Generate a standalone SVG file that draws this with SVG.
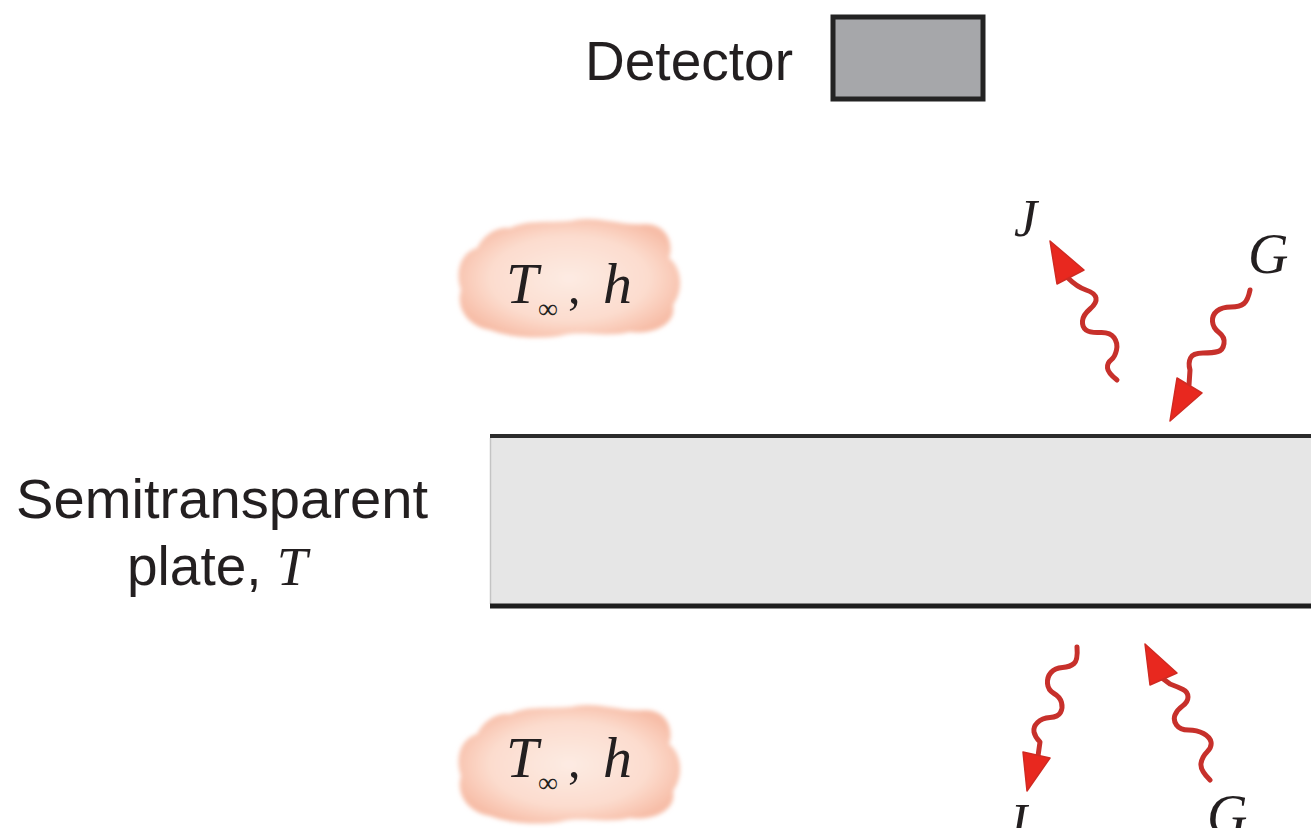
<svg xmlns="http://www.w3.org/2000/svg" width="1311" height="828" viewBox="0 0 1311 828">
  <style>
    .label { font-family: "Liberation Sans", Arial, sans-serif; fill: #231f20; }
    .math { font-family: "Liberation Serif", "Times New Roman", serif; font-style: italic; fill: #231f20; }
    .sub { font-family: "Liberation Serif", "Times New Roman", serif; fill: #231f20; }
    .wave { fill: none; stroke: #c7302b; stroke-width: 5; stroke-linecap: round; stroke-linejoin: round; }
    .head { fill: #e8281f; stroke: #d02a22; stroke-width: 1.5; stroke-linejoin: round; }
  </style>
  <defs>
    <radialGradient id="cloudFill" cx="0.5" cy="0.5" r="0.55">
      <stop offset="0" stop-color="#fdebe3"/>
      <stop offset="0.65" stop-color="#fcdcce"/>
      <stop offset="1" stop-color="#f7bda7"/>
    </radialGradient>
    <filter id="soft" x="-10%" y="-20%" width="120%" height="140%">
      <feGaussianBlur stdDeviation="2"/>
    </filter>
    <path id="cloudShape" d="M 510 228 C 530 218, 560 224, 575 220 C 600 216, 620 226, 645 224 C 668 224, 674 245, 669 258 C 682 268, 684 290, 673 305 C 677 325, 652 335, 630 332 C 605 338, 580 330, 560 336 C 535 340, 505 336, 490 330 C 465 326, 456 305, 461 290 C 454 270, 462 252, 477 248 C 484 234, 498 226, 510 228 Z"/>
  </defs>

  <rect width="1311" height="828" fill="#ffffff"/>

  <!-- detector -->
  <g id="detector">
    <text class="label" x="585" y="80" font-size="55" textLength="208" lengthAdjust="spacingAndGlyphs">Detector</text>
    <rect x="833" y="17" width="150" height="82" fill="#a6a7aa" stroke="#232323" stroke-width="5"/>
  </g>

  <!-- plate -->
  <g id="plate">
    <rect x="490" y="436" width="830" height="170" fill="#e6e6e6"/>
    <line x1="490.5" y1="438" x2="490.5" y2="604" stroke="#c4c4c4" stroke-width="1.5"/>
    <line x1="490" y1="436" x2="1311" y2="436" stroke="#2b2b2b" stroke-width="4"/>
    <line x1="490" y1="606" x2="1311" y2="606" stroke="#1e1e1e" stroke-width="5"/>
  </g>

  <g id="plate-label">
    <text class="label" x="16" y="518" font-size="55" textLength="412" lengthAdjust="spacingAndGlyphs">Semitransparent</text>
    <text class="label" x="127" y="585" font-size="55">plate, <tspan class="math">T</tspan></text>
  </g>

  <!-- surrounding fluid, upper side -->
  <g id="fluid-top">
    <use href="#cloudShape" fill="url(#cloudFill)" filter="url(#soft)"/>
    <text class="math" x="506" y="303" font-size="58">T</text>
    <text class="sub" x="538" y="318" font-size="28">∞</text>
    <text class="sub" x="568" y="303" font-size="50">,</text>
    <text class="math" x="603" y="303" font-size="58">h</text>
  </g>

  <!-- surrounding fluid, lower side -->
  <g id="fluid-bottom">
    <use href="#cloudShape" transform="translate(0 486)" fill="url(#cloudFill)" filter="url(#soft)"/>
    <text class="math" x="506" y="777" font-size="58">T</text>
    <text class="sub" x="538" y="792" font-size="28">∞</text>
    <text class="sub" x="568" y="777" font-size="50">,</text>
    <text class="math" x="603" y="777" font-size="58">h</text>
  </g>

  <!-- radiation fluxes -->
  <g id="connectors">
    <g id="J-top">
      <path class="wave" d="M 1117 380 Q 1108 373 1107.5 368 Q 1107 363 1111 360 Q 1115 357 1116.5 350 Q 1118 343 1114 337.5 Q 1110 332 1100 332.5 Q 1090 333 1086 330 Q 1082 327 1082.5 321 Q 1083 315 1090 309 Q 1097 303 1096 298 Q 1095 293 1086 290 Q 1077 287 1068 278"/>
      <polygon class="head" points="1050,241 1084,270 1057,284"/>
    </g>
    <g id="G-top">
      <path class="wave" d="M 1250 290 Q 1248 300 1244 303.5 Q 1240 307 1231 307 Q 1222 307 1217 311 Q 1212 315 1212.5 321.5 Q 1213 328 1219 332.5 Q 1225 337 1224 343.5 Q 1223 350 1218 351.5 Q 1213 353 1203 353 Q 1193 353 1190.5 358 Q 1188 363 1190 370 L 1189 385"/>
      <polygon class="head" points="1170,421 1177,378 1202,393"/>
    </g>
    <g id="J-bottom">
      <path class="wave" d="M 1077 647 Q 1078 660 1074 663.5 Q 1070 667 1062.5 667.5 Q 1055 668 1051 672.5 Q 1047 677 1047.5 683.5 Q 1048 690 1054 693.5 Q 1060 697 1061.5 702.5 Q 1063 708 1060.5 712.5 Q 1058 717 1050 717.5 Q 1042 718 1037.5 722.5 Q 1033 727 1034 732 Q 1035 737 1040 742 L 1038 756"/>
      <polygon class="head" points="1027,791 1023,752 1050,758"/>
    </g>
    <g id="G-bottom">
      <path class="wave" d="M 1210 780 Q 1200 770 1201 763.5 Q 1202 757 1207 752 Q 1212 747 1211 742 Q 1210 737 1203.5 733.5 Q 1197 730 1188.5 730 Q 1180 730 1176.5 725 Q 1173 720 1175 715 Q 1177 710 1182.5 706 Q 1188 702 1188 697 Q 1188 692 1183 689.5 Q 1178 687 1170 684 L 1162 678"/>
      <polygon class="head" points="1145,644 1177,673 1150,685"/>
    </g>
  </g>

  <g id="flux-labels">
    <text class="math" x="1014" y="236" font-size="52">J</text>
    <text class="math" x="1248" y="273" font-size="56">G</text>
    <text class="math" x="1004" y="840" font-size="52">J</text>
    <text class="math" x="1207" y="834" font-size="56">G</text>
  </g>
</svg>
